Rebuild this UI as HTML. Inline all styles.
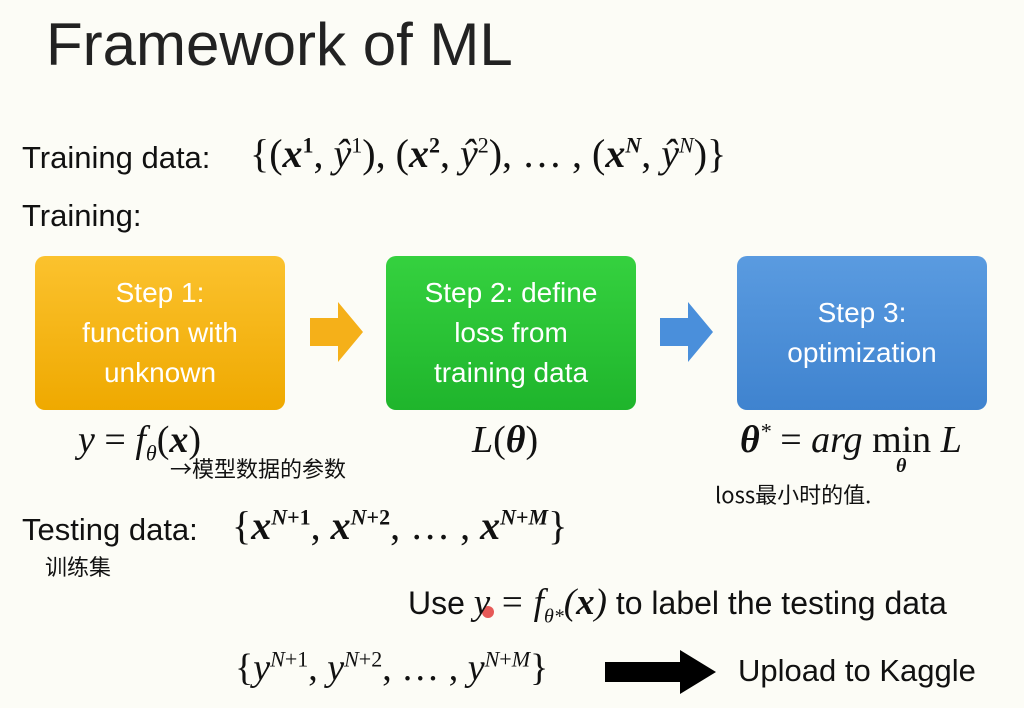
<!DOCTYPE html>
<html><head><meta charset="utf-8"><style>
body{margin:0;width:1024px;height:708px;background:#fcfcf6;position:relative;overflow:hidden;font-family:"Liberation Sans",sans-serif;color:#111}
.a{position:absolute;white-space:nowrap}
.m{font-family:"Liberation Serif",serif;font-style:italic}
.box{position:absolute;top:256px;width:250px;height:154px;border-radius:10px;color:#fff;font-size:28px;text-align:center;display:flex;align-items:center;justify-content:center;line-height:40px}
.hw{font-family:"Noto Sans CJK SC",sans-serif;font-size:22px;color:#111;position:absolute;white-space:nowrap}
</style></head><body>
<div class="a" style="left:46px;top:10px;font-size:60px;font-weight:300;color:#222">Framework of ML</div>
<div class="a" style="left:22px;top:140px;font-size:31px">Training data:</div>
<div class="a m" style="left:250px;top:130px;font-size:40px;font-style:normal">{(<b><i>x</i></b><sup style="font-size:22px"><b>1</b></sup>, <i>ŷ</i><sup style="font-size:22px">1</sup>), (<b><i>x</i></b><sup style="font-size:22px"><b>2</b></sup>, <i>ŷ</i><sup style="font-size:22px">2</sup>), … , (<b><i>x</i></b><sup style="font-size:22px"><b><i>N</i></b></sup>, <i>ŷ</i><sup style="font-size:22px"><i>N</i></sup>)}</div>
<div class="a" style="left:22px;top:198px;font-size:31px">Training:</div>
<div class="box" style="left:35px;background:linear-gradient(#fbc22e,#efa900)">Step 1:<br>function with<br>unknown</div>
<div class="box" style="left:386px;background:linear-gradient(#35d13f,#1fb52c)">Step 2: define<br>loss from<br>training data</div>
<div class="box" style="left:737px;background:linear-gradient(#5a9be0,#3f83cf)">Step 3:<br>optimization</div>
<svg class="a" style="left:0;top:0" width="1024" height="708">
<polygon points="310,318 338,318 338,302 363,332 338,362 338,346 310,346" fill="#f5b019"/>
<polygon points="660,318 688,318 688,302 713,332 688,362 688,346 660,346" fill="#4a8fdb"/>
<polygon points="605,662 680,662 680,650 716,672 680,694 680,682 605,682" fill="#000"/>
<circle cx="488" cy="612" r="6" fill="#e03030" opacity="0.8"/>
</svg>
<div class="a m" style="left:78px;top:418px;font-size:38px">y <span style="font-style:normal">=</span> f<sub style="font-size:22px">θ</sub><span style="font-style:normal">(</span><b>x</b><span style="font-style:normal">)</span></div>
<div class="a m" style="left:472px;top:418px;font-size:38px">L<span style="font-style:normal">(</span><b>θ</b><span style="font-style:normal">)</span></div>
<div class="a m" style="left:740px;top:418px;font-size:38px"><b>θ</b><sup style="font-size:22px">*</sup> <span style="font-style:normal">=</span> arg <span style="font-style:normal">min</span> L</div>
<div class="a m" style="left:896px;top:455px;font-size:20px"><b>θ</b></div>
<div class="hw" style="left:170px;top:452px">→模型数据的参数</div>
<div class="hw" style="left:715px;top:478px">loss最小时的值.</div>
<div class="a" style="left:22px;top:512px;font-size:31px">Testing data:</div>
<div class="a m" style="left:232px;top:502px;font-size:40px;font-style:normal">{<b><i>x</i></b><sup style="font-size:22px"><b><i>N</i>+1</b></sup>, <b><i>x</i></b><sup style="font-size:22px"><b><i>N</i>+2</b></sup>, … , <b><i>x</i></b><sup style="font-size:22px"><b><i>N</i>+<i>M</i></b></sup>}</div>
<div class="hw" style="left:45px;top:550px">训练集</div>
<div class="a" style="left:408px;top:581px;font-size:32px">Use <span class="m" style="font-size:37px">y = f<sub style="font-size:20px">θ*</sub>(<b>x</b>)</span> to label the testing data</div>
<div class="a m" style="left:235px;top:646px;font-size:38px;font-style:normal">{<i>y</i><sup style="font-size:22px"><i>N</i>+1</sup>, <i>y</i><sup style="font-size:22px"><i>N</i>+2</sup>, … , <i>y</i><sup style="font-size:22px"><i>N</i>+<i>M</i></sup>}</div>
<div class="a" style="left:738px;top:653px;font-size:31px">Upload to Kaggle</div>
</body></html>
